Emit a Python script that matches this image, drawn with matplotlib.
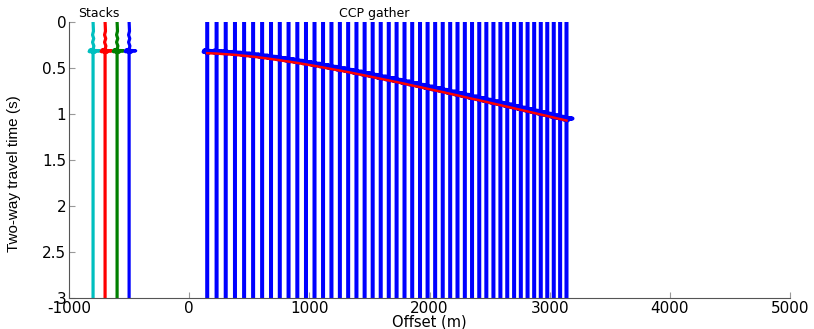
import matplotlib
matplotlib.use("Agg")
import matplotlib.pyplot as plt
import numpy as np

# ---- data ----
stack_offsets = [-800, -700, -600, -500]
stack_colors = ["#00bfbf", "#ff0000", "#008000", "#0000ff"]
stack_pick = [0.327, 0.327, 0.327, 0.327]

gather_offsets = [150, 228, 304, 381, 457, 532, 607, 681, 754, 827, 900, 972,
                  1043, 1114, 1184, 1254, 1323, 1392, 1460, 1527, 1594, 1661,
                  1726, 1792, 1856, 1921, 1984, 2047, 2110, 2172, 2233, 2294,
                  2354, 2414, 2473, 2532, 2590, 2647, 2704, 2760, 2816, 2871,
                  2926, 2980, 3034, 3087, 3140]
gather_pick = [0.331, 0.335, 0.342, 0.349, 0.359, 0.369, 0.381, 0.394, 0.408,
               0.422, 0.437, 0.453, 0.469, 0.486, 0.503, 0.520, 0.537, 0.555,
               0.573, 0.591, 0.609, 0.627, 0.645, 0.663, 0.682, 0.700, 0.718,
               0.736, 0.754, 0.772, 0.790, 0.808, 0.826, 0.843, 0.861, 0.879,
               0.896, 0.913, 0.930, 0.947, 0.964, 0.981, 0.998, 1.014, 1.031,
               1.047, 1.063]

# wavelet shape (time relative to pick, normalised amplitude)
wavelet_t = [-0.030, -0.022, -0.014, -0.006, 0.002, 0.010]
wavelet_a = [0.0, -0.5, 1.0, -0.6, 0.3, 0.0]
stack_noise_t = [0.10, 0.14, 0.18, 0.22, 0.26]
stack_noise_a = [0.06, -0.08, 0.1, -0.08, 0.12]

xticks = [-1000, 0, 1000, 2000, 3000, 4000, 5000]
yticks = [0, 0.5, 1, 1.5, 2, 2.5, 3]
ytick_labels = ["0", "0.5", "1", "1.5", "2", "2.5", "3"]

# ---- figure ----
fig = plt.figure(figsize=(8.14, 3.29), dpi=100)
ax = fig.add_axes([0.0848, 0.0942, 0.8857, 0.8389])

wt = np.array(wavelet_t)
wa = np.array(wavelet_a)

# stacked traces
for off, col, tp in zip(stack_offsets, stack_colors, stack_pick):
    t = np.concatenate([[0.0], stack_noise_t, tp + wt, [3.0]])
    a = np.concatenate([[0.0], stack_noise_a, wa, [0.0]])
    ax.plot(off + 55 * a, t, color=col, lw=2.3)

# CCP gather traces
for off, tp in zip(gather_offsets, gather_pick):
    t = np.concatenate([[0.0], tp + wt, [3.0]])
    a = np.concatenate([[0.0], wa, [0.0]])
    ax.plot(off + 50 * a, t, color="#0000ff", lw=2.9)

# moveout pick line
ax.plot(gather_offsets, np.array(gather_pick) + 0.008, color="#ff0000", lw=1.8, zorder=5)

ax.text(-750, -0.09, "Stacks", ha="center", va="center", fontsize=9, clip_on=False)
ax.text(1540, -0.09, "CCP gather", ha="center", va="center", fontsize=9, clip_on=False)

ax.set_xlim(-1000, 5000)
ax.set_ylim(3, 0)
ax.set_xticks(xticks)
ax.set_xticklabels([str(v) for v in xticks])
ax.set_yticks(yticks)
ax.set_yticklabels(ytick_labels)
for s in ["top", "right"]:
    ax.spines[s].set_visible(False)
for s in ["left", "bottom"]:
    ax.spines[s].set_color("#555555")
    ax.spines[s].set_linewidth(0.8)
ax.tick_params(direction="in", length=4, color="#999999", labelsize=11, pad=2)
ax.set_xlabel("Offset (m)", fontsize=10.5)
ax.xaxis.set_label_coords(0.5, -0.06)
ax.set_ylabel("Two-way travel time (s)", fontsize=11, family="Liberation Sans")
ax.yaxis.set_label_coords(-0.066, 0.45)

fig.savefig("out.png", dpi=100)
